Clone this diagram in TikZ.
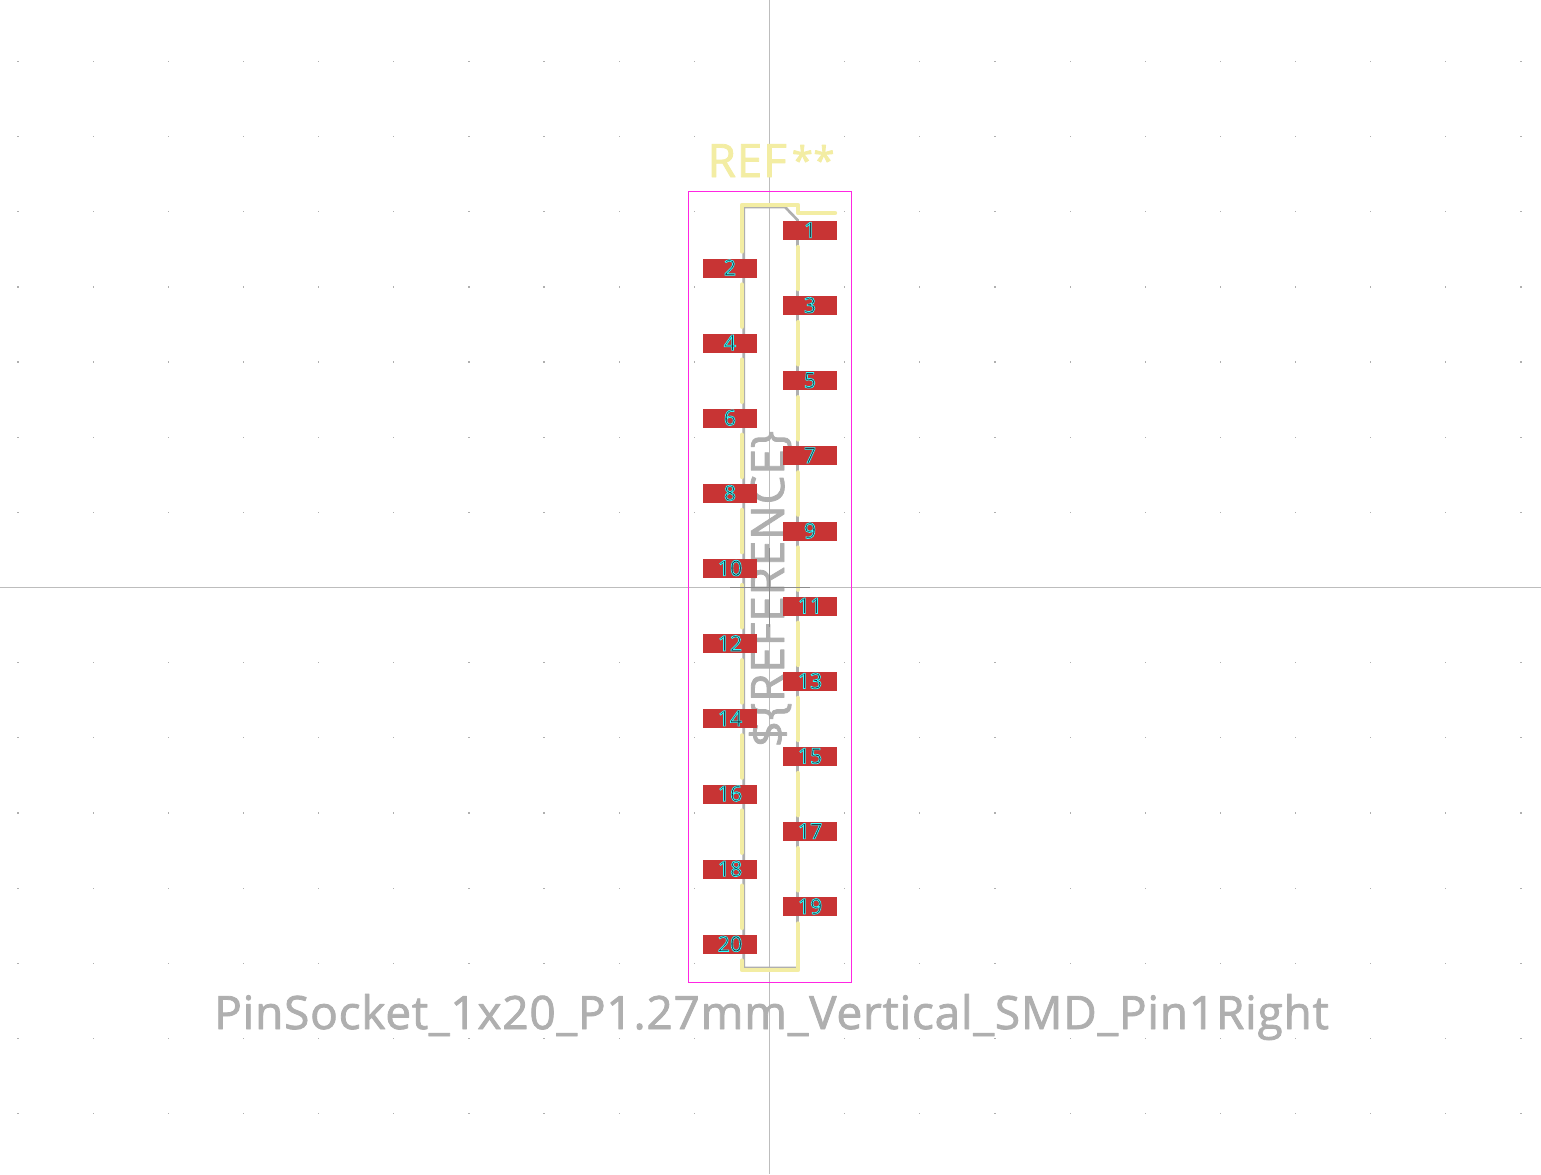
\documentclass[tikz,border=0pt]{standalone}
\usepackage{fontspec}
\setmainfont{Open Sans}
\newfontfamily\kifont[LetterSpace=1.7]{Open Sans}
\newfontfamily\padfont{Open Sans}
\definecolor{silk}{HTML}{F3EDA3}
\definecolor{fab}{HTML}{AFAFAF}
\definecolor{court}{HTML}{FF26E2}
\definecolor{padred}{HTML}{C83434}
\definecolor{axis}{HTML}{BDBDBD}
\newcommand{\padtext}[1]{\special{pdf:code q 2 Tr 0.7 w 0.2 1 1 RG 0.1 0.15 0.2 rg}{\padfont\fontsize{21.5bp}{22bp}\selectfont #1}\special{pdf:code Q}}
\newcommand{\fabtext}[1]{\special{pdf:code q 2 Tr 0.8 w 1 j 0.686 0.686 0.686 RG 0.686 0.686 0.686 rg}#1\special{pdf:code Q}}
\newcommand{\silktext}[1]{\special{pdf:code q 2 Tr 0.8 w 1 j 0.953 0.929 0.639 RG 0.953 0.929 0.639 rg}#1\special{pdf:code Q}}
\tikzset{
  silkline/.style={draw=silk,line width=4.4bp,line cap=round,line join=round},
  fabline/.style={draw=fab,line width=2.6bp},
  padbox/.style={fill=padred,draw=none,minimum width=54bp,minimum height=19bp,inner sep=0pt,outer sep=0pt},
  padnum/.style={inner sep=0pt,outer sep=0pt},
  bigtext/.style={inner sep=0pt,outer sep=0pt,anchor=base,font=\kifont\fontsize{46bp}{50bp}\selectfont},
}
\begin{document}
\begin{tikzpicture}[x=1bp,y=-1bp]
\useasboundingbox (0,0) rectangle (1541,1174);
\fill[white] (0,0) rectangle (1541,1174);
% grid
\foreach \i in {-10,...,10}{\foreach \j in {-7,...,7}{
  \fill[fab] ({769.5+75.15*\i-0.6},{587.5+75.15*\j-0.6}) rectangle +(1.2,1.2);}}
% axes
\coordinate (axL) at (0,587.5); \coordinate (axR) at (1541,587.5);
\coordinate (axT) at (769.5,0); \coordinate (axB) at (769.5,1174);
\draw[axis,line width=1bp] (axL) -- (axR) (axT) -- (axB);
% fab outline
\coordinate (fa) at (743.7,207); \coordinate (fb) at (785,207); \coordinate (fc) at (797.5,220);
\coordinate (fd) at (797.5,968); \coordinate (fe) at (743.7,968);
\draw[fabline] (fa) -- (fb) -- (fc) -- (fd) -- (fe) -- cycle;
% silk
\draw[silkline] (742,251.5) -- (742,205) -- (798,205) -- (798,213) -- (835,213);
\foreach \a in {0,...,8}{
  \draw[silkline] (742,{268+75.15*\a+16.5}) -- (742,{268+75.15*(\a+1)-16.5});
  \draw[silkline] (798,{230.5+75.15*\a+16.5}) -- (798,{230.5+75.15*(\a+1)-16.5});}
\draw[silkline] (742,960.5) -- (742,970) -- (798,970) -- (798,923.5);
% reference
\node[bigtext,rotate=90] (fabref) at (784,589) {\fabtext{\$\{REFERENCE\}}};
% courtyard
\draw[court,line width=1bp] (688.5,191.5) rectangle (851.5,982.5);
% pads
\foreach \n in {1,3,...,19}{
  \node[padbox] (pad\n) at (810,{230.5+75.15*(\n-1)/2}) {};
  \node[padnum] (num\n) at ([yshift=0.5bp]pad\n) {\padtext{\n}};}
\foreach \n in {2,4,...,20}{
  \node[padbox] (pad\n) at (730,{268+75.15*(\n-2)/2}) {};
  \node[padnum] (num\n) at ([yshift=0.5bp]pad\n) {\padtext{\n}};}
% texts
\node[bigtext] (refname) at (771,177) {\silktext{REF\hspace{5bp}\raisebox{3bp}{\fontsize{38bp}{40bp}\selectfont**}}};
\node[bigtext] (fpname) at (771.5,1029) {\fabtext{PinSocket\_1x20\_P1.27mm\_Vertical\_SMD\_Pin1Right}};
% anchor cross
\draw[black!45,line width=1bp] (730,587.5) -- (810,587.5) (769.5,548) -- (769.5,627);
\end{tikzpicture}
\end{document}
